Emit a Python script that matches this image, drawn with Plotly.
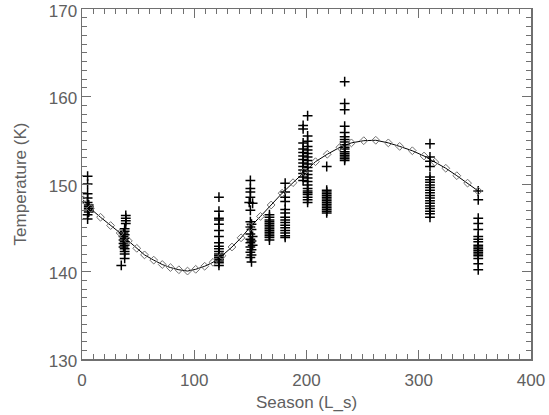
import plotly.graph_objects as go

# Model curve (diamonds)
model_ls = [1, 7.5, 16.5, 25.5, 34, 41.3, 48.8, 55.7, 63.9, 71.5, 78.8, 86.3, 94,
            101.3, 109.3, 116.7, 124.7, 133.6, 141.7, 150, 159, 168.5, 178.3, 188,
            198, 208, 218.5, 229.8, 240, 251, 261.7, 272.9, 283, 294.3, 304.7,
            314.3, 324.1, 333.9, 343.5, 353]
model_t = [148.2, 147.2, 146.2, 145.25, 144.4, 143.5, 142.65, 141.9, 141.3, 140.8,
           140.45, 140.2, 140.05, 140.25, 140.6, 141.05, 141.8, 142.8, 143.85, 145.1,
           146.3, 147.6, 148.95, 150.15, 151.4, 152.55, 153.4, 154.2, 154.7, 154.95,
           155.0, 154.7, 154.3, 153.8, 153.2, 152.5, 151.8, 150.95, 150.1, 149.2]

# Observations, one pair of lists per season cluster
obs_a_ls = [5, 5, 5, 5, 5, 6, 6, 6, 6, 6, 5, 5]
obs_a_t = [150.9, 150.0, 148.9, 148.4, 147.9, 147.6, 147.4, 147.2, 147.0, 146.8, 146.5, 146.0]

obs_b_ls = [39, 39, 39, 39, 38, 38, 37, 38, 37, 38, 37, 38, 37, 38, 37, 38, 38, 38, 38, 35]
obs_b_t = [146.4, 146.1, 145.8, 145.5, 144.9, 144.6, 144.4, 144.2, 144.0, 143.8, 143.6,
           143.4, 143.2, 143.0, 142.8, 142.6, 142.3, 142.0, 141.5, 140.7]

obs_c_ls = [122, 122, 122, 122, 122, 122, 122, 122, 122, 122, 122, 122, 122, 122, 122, 122, 122, 122]
obs_c_t = [148.5, 146.9, 146.1, 145.9, 145.4, 144.7, 144.0, 143.3, 142.9, 142.6, 142.3,
           142.0, 141.8, 141.6, 141.4, 141.2, 141.0, 140.7]

obs_d_ls = [150, 150, 150, 150, 149, 152, 150, 150, 151, 150, 151, 150, 152, 150, 151,
            150, 152, 150, 151, 150, 151, 150, 151]
obs_d_t = [150.4, 149.5, 149.1, 148.5, 147.9, 147.8, 147.0, 145.7, 145.4, 145.1, 144.8,
           144.3, 144.0, 143.7, 143.5, 143.3, 143.0, 142.8, 142.5, 142.2, 141.9, 141.6, 141.1]

obs_e_ls = [167, 167, 167, 167, 167, 167, 167, 167, 167, 167, 167, 167, 167, 167]
obs_e_t = [146.5, 146.2, 145.9, 145.7, 145.5, 145.3, 145.1, 144.9, 144.7, 144.5, 144.3,
           144.1, 143.9, 143.6]

obs_f_ls = [181, 181, 181, 181, 181, 181, 181, 181, 181, 181, 181, 181, 181, 181, 181]
obs_f_t = [150.1, 149.1, 148.5, 148.0, 147.1, 146.7, 146.2, 145.9, 145.6, 145.3, 145.0,
           144.7, 144.4, 144.1, 143.9]

obs_g1_ls = [197, 197, 197, 197, 197, 197, 197, 197, 197, 197, 197, 197, 197]
obs_g1_t = [156.7, 156.3, 154.7, 154.0, 153.6, 153.2, 152.8, 152.4, 152.0, 151.6, 151.2,
            150.8, 150.4]
obs_g2_ls = [201, 201, 201, 201, 201, 201, 201, 201, 201, 201, 201, 201, 201, 201, 201,
             201, 201, 201, 201, 201, 201, 201]
obs_g2_t = [157.8, 155.5, 154.9, 154.3, 153.9, 153.5, 153.1, 152.7, 152.3, 151.9, 151.5,
            151.1, 150.7, 150.3, 149.9, 149.5, 149.2, 149.0, 148.8, 148.5, 148.2, 147.9]

obs_h_ls = [218, 218, 218, 218, 218, 218, 218, 218, 218, 218, 218, 218, 218, 218, 218]
obs_h_t = [152.0, 149.3, 149.1, 148.9, 148.7, 148.5, 148.3, 148.1, 147.9, 147.7, 147.5,
           147.3, 147.1, 146.9, 146.7]

obs_i_ls = [234, 234, 234, 234, 234, 234, 234, 234, 234, 234, 234, 234, 234, 234, 234, 234, 234]
obs_i_t = [161.7, 159.2, 158.5, 156.6, 155.9, 155.4, 155.1, 154.8, 154.5, 154.2, 154.0,
           153.7, 153.5, 153.3, 153.1, 152.9, 152.7]

obs_j_ls = [310, 310, 310, 310, 310, 310, 310, 310, 310, 310, 310, 310, 310, 310, 310,
            310, 310, 310, 310, 310]
obs_j_t = [154.6, 153.1, 152.6, 152.0, 150.8, 150.5, 150.2, 149.9, 149.6, 149.3, 149.0,
           148.7, 148.4, 148.1, 147.8, 147.5, 147.2, 146.9, 146.6, 146.2]

obs_k_ls = [353, 353, 353, 353, 353, 353, 353, 353, 353, 353, 353, 353, 353, 353, 353,
            353, 353, 353]
obs_k_t = [149.2, 148.2, 146.1, 145.5, 144.8, 144.0, 143.7, 143.4, 143.0, 142.8, 142.6,
           142.4, 142.2, 142.0, 141.8, 141.5, 140.9, 140.2]

x_ticks = [0, 100, 200, 300, 400]
y_ticks = [130, 140, 150, 160, 170]

obs_ls = (obs_a_ls + obs_b_ls + obs_c_ls + obs_d_ls + obs_e_ls + obs_f_ls + obs_g1_ls
          + obs_g2_ls + obs_h_ls + obs_i_ls + obs_j_ls + obs_k_ls)
obs_t = (obs_a_t + obs_b_t + obs_c_t + obs_d_t + obs_e_t + obs_f_t + obs_g1_t
         + obs_g2_t + obs_h_t + obs_i_t + obs_j_t + obs_k_t)

TEXT = "#606060"
AXIS = "#707070"
FONT = "Liberation Sans"

fig = go.Figure()
fig.add_trace(go.Scatter(
    x=obs_ls, y=obs_t, mode="markers",
    marker=dict(symbol="cross-thin", size=7, line=dict(width=1.5, color="black"), color="black"),
    showlegend=False, hoverinfo="skip"))
fig.add_trace(go.Scatter(
    x=model_ls, y=model_t, mode="lines+markers",
    line=dict(color="black", width=1),
    marker=dict(symbol="diamond-open", size=6, color="#707070", line=dict(width=1, color="#707070")),
    showlegend=False, hoverinfo="skip"))

axis_common = dict(
    showgrid=False, zeroline=False, showline=True, linecolor=AXIS, linewidth=1.5,
    mirror="ticks", ticks="inside", tickcolor=AXIS, tickwidth=1, ticklen=9,
    tickfont=dict(family=FONT, size=17, color=TEXT), automargin=False,
    ticklabeloverflow="allow",
)

fig.update_layout(
    width=549, height=415,
    margin=dict(l=82, r=18, t=9, b=56),
    paper_bgcolor="white", plot_bgcolor="white",
    font=dict(family=FONT, color=TEXT, size=17),
    xaxis=dict(range=[0, 400], tickvals=x_ticks, ticktext=[str(v) for v in x_ticks],
               minor=dict(dtick=10, ticks="inside", ticklen=5, tickcolor=AXIS, tickwidth=1),
               ticklabelstandoff=5,
               title=dict(text="Season (L_s)", font=dict(family=FONT, size=17, color=TEXT), standoff=7),
               **axis_common),
    yaxis=dict(range=[130, 170], tickvals=y_ticks, ticktext=[str(v) for v in y_ticks],
               minor=dict(dtick=1, ticks="inside", ticklen=5, tickcolor=AXIS, tickwidth=1),
               ticklabelshift=2,
               title=dict(text="Temperature (K)", font=dict(family=FONT, size=17, color=TEXT), standoff=18),
               **axis_common),
)

# Remove the default 8px page margin so the figure sits at the window's corner.
fig.write_html("out.html", config={"displayModeBar": False, "staticPlot": True},
               post_script="document.body.style.margin='0';")
